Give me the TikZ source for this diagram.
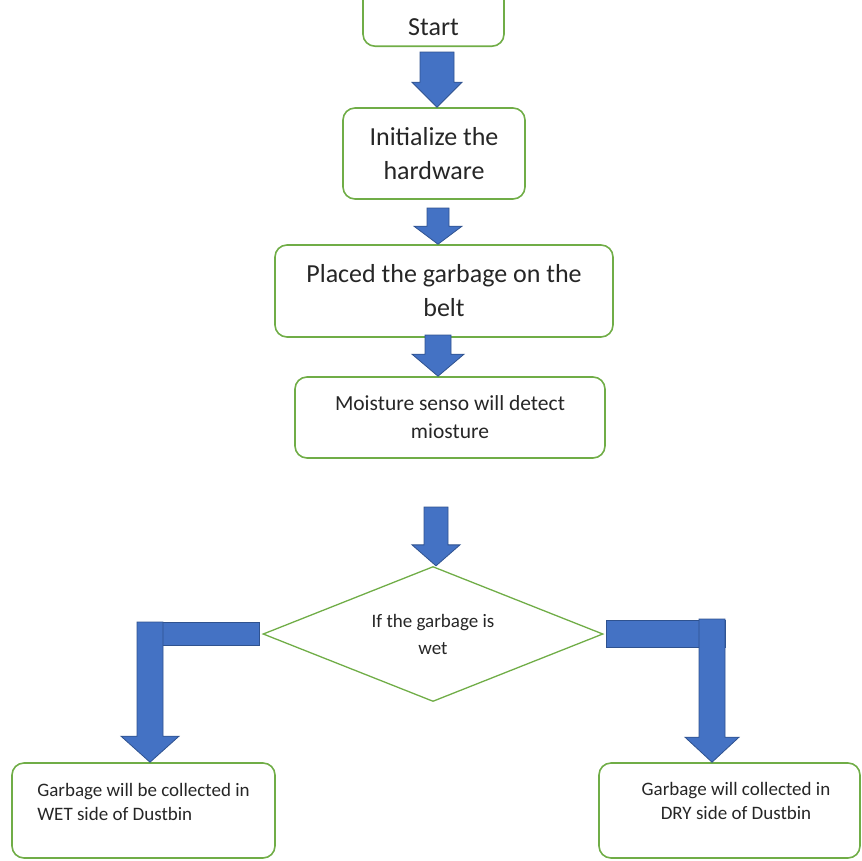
\documentclass[tikz,border=0pt]{standalone}
\usepackage{fontspec}
\setmainfont{Carlito}
\usetikzlibrary{shapes.geometric,calc}

\definecolor{boxgreen}{HTML}{70AD47}
\definecolor{arrowblue}{HTML}{4472C4}
\definecolor{arrowedge}{HTML}{2F528F}
\definecolor{textgrey}{HTML}{262626}

\newcommand{\bigtext}{\fontsize{26}{34}\selectfont}
\newcommand{\midtext}{\fontsize{21.5}{28}\selectfont}
\newcommand{\smalltext}{\fontsize{19}{24}\selectfont}

\tikzset{
  flowbox/.style={draw=boxgreen,line width=1.6pt,rounded corners=12pt,
    text=textgrey,align=center,inner sep=0pt},
  decision/.style={diamond,aspect=2.5,draw=boxgreen,line width=1.3pt,text=textgrey,
    align=center,inner sep=0pt,minimum width=340pt,minimum height=135pt},
  blockarrow/.style={fill=arrowblue,draw=arrowedge,line width=0.8pt},
  boxlabel/.style={anchor=center,text=textgrey,inner sep=0pt},
}

% block arrow pointing down: shaft top, tip, shaft half width, head half width, head length
\newcommand{\downblock}[5]{%
  \filldraw[blockarrow] let \p1=(#1), \p2=(#2) in
    (\x2-#3,\y1) -- (\x2+#3,\y1) -- (\x2+#3,\y2+#5) -- (\x2+#4,\y2+#5)
    -- (\x2,\y2) -- (\x2-#4,\y2+#5) -- (\x2-#3,\y2+#5) -- cycle;}

\begin{document}
\begin{tikzpicture}[x=1pt,y=-1pt]
  \useasboundingbox (0,0) rectangle (862,860);

  % steps
  \node[flowbox,minimum width=141pt,minimum height=100pt,anchor=south,
    label={[boxlabel,font=\bigtext,yshift=20pt]south:Start}] (start) at (433.5,47) {};
  \node[flowbox,minimum width=182pt,minimum height=91pt,font=\bigtext]
    (init) at (434,153.5) {Initialize the\\hardware};
  \node[flowbox,minimum width=338pt,minimum height=92pt,font=\bigtext]
    (belt) at (444,291) {Placed the garbage on the\\belt};
  \node[flowbox,minimum width=310pt,minimum height=81pt,font=\midtext]
    (sensor) at (450,417.5) {Moisture senso will detect\\miosture};
  \node[decision,font=\fontsize{19}{27}\selectfont]
    (wetcheck) at (433,634) {If the garbage is\\wet};
  \node[flowbox,minimum width=263pt,minimum height=95pt,
    label={[boxlabel,align=left,font=\smalltext,yshift=9pt]center:Garbage will be collected in\\WET side of Dustbin}]
    (wetbin) at (143.5,810.5) {};
  \node[flowbox,minimum width=261pt,minimum height=95pt,
    label={[boxlabel,align=center,font=\smalltext,xshift=6.5pt,yshift=9.5pt]center:Garbage will collected in\\DRY side of Dustbin}]
    (drybin) at (729.5,810.5) {};

  % arrows
  \coordinate (a1) at (437,52);
  \coordinate (a2) at (438,208);
  \coordinate (a3) at (438,335);
  \coordinate (a4) at (436,507);
  \downblock{a1}{a1 |- init.north}{17pt}{25pt}{25pt}
  \downblock{a2}{a2 |- belt.north}{11pt}{24pt}{18pt}
  \downblock{a3}{a3 |- sensor.north}{13pt}{26pt}{22pt}
  \downblock{a4}{a4 |- wetcheck.north}{12pt}{24pt}{21pt}

  % bent arrows out of the decision
  \filldraw[blockarrow] let \p1=(wetcheck.west) in
    (137pt,\y1+11.5pt) rectangle (\x1-3pt,\y1-11.5pt);
  \coordinate (l1) at (150,622);
  \downblock{l1}{l1 |- wetbin.north}{13pt}{29pt}{26pt}

  \filldraw[blockarrow] let \p1=(wetcheck.east) in
    (\x1+3pt,\y1+13.5pt) rectangle (725pt,\y1-13.5pt);
  \coordinate (r1) at (712,619);
  \downblock{r1}{r1 |- drybin.north}{13pt}{27pt}{25pt}
\end{tikzpicture}
\end{document}
